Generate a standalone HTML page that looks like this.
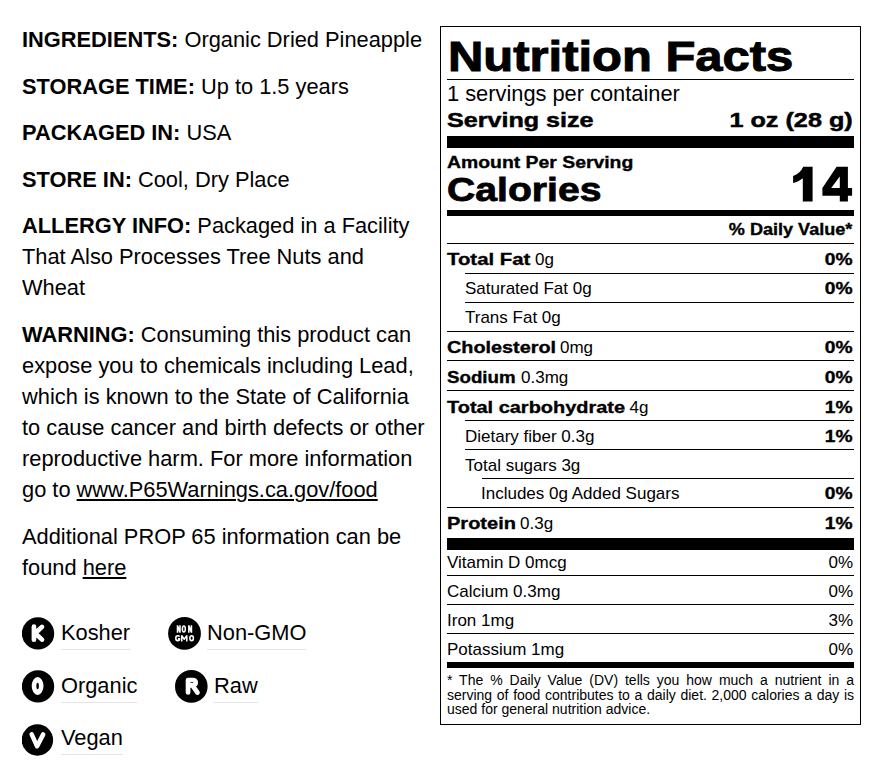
<!DOCTYPE html>
<html><head><meta charset="utf-8">
<style>
html,body{margin:0;padding:0;background:#fff;}
body{width:883px;height:781px;position:relative;overflow:hidden;font-family:"Liberation Sans",sans-serif;color:#000;}
.p{position:absolute;left:22px;font-size:22.9px;line-height:31px;white-space:nowrap;transform:scaleX(0.953);transform-origin:0 0;}
.p span{}
.p u{text-decoration:underline;text-underline-offset:2px;text-decoration-thickness:2px;}
.ic{position:absolute;width:32px;height:32px;}
.lb{position:absolute;font-size:22.9px;line-height:25px;white-space:nowrap;border-bottom:1px solid #e4e4e4;padding-bottom:4px;transform:scaleX(0.953);transform-origin:0 0;}
.t{position:absolute;white-space:nowrap;line-height:1;}
.bx{display:inline-block;transform-origin:0 0;font-weight:bold;-webkit-text-stroke:0.35px #000;}
.rt{transform-origin:100% 0;}
.hl{position:absolute;height:1px;background:#000;}
.bar{position:absolute;background:#000;}
.fn{position:absolute;left:447px;width:407px;font-size:14px;line-height:14px;text-align:justify;text-align-last:justify;white-space:nowrap;}
</style></head><body>

<div class="p" style="top:24px"><b>INGREDIENTS:</b><span> Organic Dried Pineapple</span></div>
<div class="p" style="top:71px"><b>STORAGE TIME:</b><span> Up to 1.5 years</span></div>
<div class="p" style="top:117px"><b>PACKAGED IN:</b><span> USA</span></div>
<div class="p" style="top:164px"><b>STORE IN:</b><span> Cool, Dry Place</span></div>
<div class="p" style="top:210px"><b>ALLERGY INFO:</b><span> Packaged in a Facility<br>That Also Processes Tree Nuts and<br>Wheat</span></div>
<div class="p" style="top:319px"><b>WARNING:</b><span> Consuming this product can<br>expose you to chemicals including Lead,<br>which is known to the State of California<br>to cause cancer and birth defects or other<br>reproductive harm. For more information<br>go to <u>www.P65Warnings.ca.gov/food</u></span></div>
<div class="p" style="top:521px"><span>Additional PROP 65 information can be<br>found <u>here</u></span></div>
<svg class="ic" style="left:22px;top:617px;width:33px;height:33px" viewBox="0 0 33 33"><circle cx="16" cy="16.4" r="16.2" fill="#000"/><path d="M11.95 22.65V9.65M20 9.9L13.2 16.3L20 22.6" stroke-width="4.7" stroke="#fff" stroke-linecap="round" stroke-linejoin="round" fill="none"/></svg>
<div class="lb" style="left:61px;top:620px">Kosher</div>
<svg class="ic" style="left:168px;top:617px;width:33px;height:33px" viewBox="0 0 33 33"><circle cx="16.5" cy="16.4" r="16.4" fill="#000"/><g stroke="#fff" stroke-width="1.55" fill="none" stroke-linejoin="round"><path d="M9.5 15.7V8.3M9.5 8.6L12 15.4M12 15.7V8.3M20.85 15.7V8.3M20.85 8.6L23.45 15.4M23.45 15.7V8.3M11.6 19.6C11.3 19.1 10.7 18.8 9.75 18.8C8.45 18.8 7.8 19.9 7.8 21.2C7.8 22.6 8.45 23.6 9.75 23.6C10.9 23.6 11.6 22.9 11.6 21.7H9.9M13.7 24.4V18.2M13.7 18.6L16.25 22.2L18.8 18.6M18.8 24.4V18.2"/><ellipse cx="15.85" cy="12" rx="1.45" ry="2.95"/><ellipse cx="23.65" cy="21.2" rx="1.75" ry="2.4"/></g></svg>
<div class="lb" style="left:207px;top:620px">Non-GMO</div>
<svg class="ic" style="left:22px;top:670px;width:33px;height:33px" viewBox="0 0 33 33"><circle cx="16" cy="16.4" r="16.2" fill="#000"/><path fill="#fff" fill-rule="evenodd" d="M15.6 7.05A5.9 8.95 0 1 1 15.6 24.95A5.9 8.95 0 1 1 15.6 7.05ZM15.6 12.8A1.25 3.2 0 1 0 15.6 19.2A1.25 3.2 0 1 0 15.6 12.8Z"/></svg>
<div class="lb" style="left:61px;top:673px">Organic</div>
<svg class="ic" style="left:175px;top:670px;width:33px;height:33px" viewBox="0 0 33 33"><circle cx="16.3" cy="16.4" r="16.3" fill="#000"/><path d="M13.05 22.5V10H18.05A2.65 2.65 0 0 1 18.05 15.3H13.05M17.6 15.6L22.5 22.6" stroke-width="4.7" stroke="#fff" stroke-linecap="round" stroke-linejoin="round" fill="none"/></svg>
<div class="lb" style="left:214px;top:673px">Raw</div>
<svg class="ic" style="left:22px;top:724px;width:33px;height:33px" viewBox="0 0 33 33"><circle cx="15.4" cy="16" r="15.7" fill="#000"/><path d="M9.7 10.4L15.1 22.3L21.2 10.4" stroke-width="4.5" stroke="#fff" stroke-linecap="round" stroke-linejoin="round" fill="none"/></svg>
<div class="lb" style="left:61px;top:725px">Vegan</div>
<div style="position:absolute;left:440px;top:26px;width:421px;height:699px;box-sizing:border-box;border:1px solid #000"></div>
<div class="t" style="left:448px;top:36px;font-size:42px"><span class="bx" style="transform:scaleX(1.165);-webkit-text-stroke:1.0px #000">Nutrition Facts</span></div>
<div class="hl" style="left:447px;top:79px;width:407px"></div>
<div class="t" style="left:446.5px;top:82px;font-size:22.9px;transform:scaleX(0.953);transform-origin:0 0">1 servings per container</div>
<div class="t" style="left:447px;top:109px;font-size:21px"><span class="bx" style="transform:scaleX(1.196);-webkit-text-stroke:0.5px #000">Serving size</span></div>
<div class="t" style="right:30px;top:109px;font-size:21px"><span class="bx rt" style="transform:scaleX(1.2);-webkit-text-stroke:0.5px #000">1 oz (28 g)</span></div>
<div class="bar" style="left:447px;top:136px;width:407px;height:12px"></div>
<div class="t" style="left:447px;top:154px;font-size:17px"><span class="bx" style="transform:scaleX(1.14)">Amount Per Serving</span></div>
<div class="t" style="left:447px;top:173px;font-size:33px"><span class="bx" style="transform:scaleX(1.186);-webkit-text-stroke:0.8px #000">Calories</span></div>
<svg style="position:absolute;left:785px;top:160px;width:75px;height:50px" viewBox="785 160 75 50"><path fill="#000" d="M812.6 166.8V201.6H802.8V178.3C800 180.6 796.8 182.2 793.1 183V176.1C797.6 174.6 801.2 171.4 803.2 166.8Z"/><path fill="#000" fill-rule="evenodd" d="M836.6 166.8H847.9V188H852.1V195.7H847.9V201.6H839.8V195.7H822.4V188ZM839.8 176.4L831.2 188H839.8Z"/></svg>
<div class="bar" style="left:447px;top:210px;width:407px;height:6px"></div>
<div class="t" style="right:31px;top:222px;font-size:16px"><span class="bx rt" style="transform:scaleX(1.13)">% Daily Value*</span></div>
<div class="hl" style="left:447px;top:243px;width:407px"></div>
<div class="t" style="left:447px;top:251px;font-size:17px"><span class="bx" style="transform:scaleX(1.198)">Total Fat</span></div>
<div class="t" style="left:535px;top:251px;font-size:17px">0g</div>
<div class="t" style="right:30px;top:251px;font-size:17px"><span class="bx rt" style="transform:scaleX(1.13)">0%</span></div>
<div class="hl" style="left:465px;top:273px;width:389px"></div>
<div class="t" style="left:465px;top:280px;font-size:17px">Saturated Fat 0g</div>
<div class="t" style="right:30px;top:280px;font-size:17px"><span class="bx rt" style="transform:scaleX(1.13)">0%</span></div>
<div class="hl" style="left:465px;top:302px;width:389px"></div>
<div class="t" style="left:465px;top:309px;font-size:17px">Trans Fat 0g</div>
<div class="hl" style="left:447px;top:331px;width:407px"></div>
<div class="t" style="left:447px;top:339px;font-size:17px"><span class="bx" style="transform:scaleX(1.166)">Cholesterol</span></div>
<div class="t" style="left:560px;top:339px;font-size:17px">0mg</div>
<div class="t" style="right:30px;top:339px;font-size:17px"><span class="bx rt" style="transform:scaleX(1.13)">0%</span></div>
<div class="hl" style="left:447px;top:360px;width:407px"></div>
<div class="t" style="left:447px;top:369px;font-size:17px"><span class="bx" style="transform:scaleX(1.1)">Sodium</span></div>
<div class="t" style="left:521px;top:369px;font-size:17px">0.3mg</div>
<div class="t" style="right:30px;top:369px;font-size:17px"><span class="bx rt" style="transform:scaleX(1.13)">0%</span></div>
<div class="hl" style="left:447px;top:390px;width:407px"></div>
<div class="t" style="left:447px;top:399px;font-size:17px"><span class="bx" style="transform:scaleX(1.173)">Total carbohydrate</span></div>
<div class="t" style="left:629.5px;top:399px;font-size:17px">4g</div>
<div class="t" style="right:30px;top:399px;font-size:17px"><span class="bx rt" style="transform:scaleX(1.13)">1%</span></div>
<div class="hl" style="left:465px;top:420px;width:389px"></div>
<div class="t" style="left:465px;top:428px;font-size:17px">Dietary fiber 0.3g</div>
<div class="t" style="right:30px;top:428px;font-size:17px"><span class="bx rt" style="transform:scaleX(1.13)">1%</span></div>
<div class="hl" style="left:465px;top:449px;width:389px"></div>
<div class="t" style="left:465px;top:457px;font-size:17px">Total sugars 3g</div>
<div class="hl" style="left:482px;top:478px;width:372px"></div>
<div class="t" style="left:481px;top:485px;font-size:17px">Includes 0g Added Sugars</div>
<div class="t" style="right:30px;top:485px;font-size:17px"><span class="bx rt" style="transform:scaleX(1.13)">0%</span></div>
<div class="hl" style="left:447px;top:507px;width:407px"></div>
<div class="t" style="left:447px;top:515px;font-size:17px"><span class="bx" style="transform:scaleX(1.177)">Protein</span></div>
<div class="t" style="left:520px;top:515px;font-size:17px">0.3g</div>
<div class="t" style="right:30px;top:515px;font-size:17px"><span class="bx rt" style="transform:scaleX(1.13)">1%</span></div>
<div class="bar" style="left:447px;top:538px;width:407px;height:12px"></div>
<div class="t" style="left:447px;top:554px;font-size:17px">Vitamin D 0mcg</div>
<div class="t" style="right:30px;top:554px;font-size:17px">0%</div>
<div class="hl" style="left:447px;top:575px;width:407px"></div>
<div class="t" style="left:447px;top:583px;font-size:17px">Calcium 0.3mg</div>
<div class="t" style="right:30px;top:583px;font-size:17px">0%</div>
<div class="hl" style="left:447px;top:604px;width:407px"></div>
<div class="t" style="left:447px;top:612px;font-size:17px">Iron 1mg</div>
<div class="t" style="right:30px;top:612px;font-size:17px">3%</div>
<div class="hl" style="left:447px;top:633px;width:407px"></div>
<div class="t" style="left:447px;top:641px;font-size:17px">Potassium 1mg</div>
<div class="t" style="right:30px;top:641px;font-size:17px">0%</div>
<div class="bar" style="left:447px;top:662px;width:407px;height:6px"></div>
<div class="fn" style="top:673px">* The % Daily Value (DV) tells you how much a nutrient in a</div>
<div class="fn" style="top:688px">serving of food contributes to a daily diet. 2,000 calories a day is</div>
<div class="fn" style="top:702px;text-align-last:left">used for general nutrition advice.</div>
</body></html>
